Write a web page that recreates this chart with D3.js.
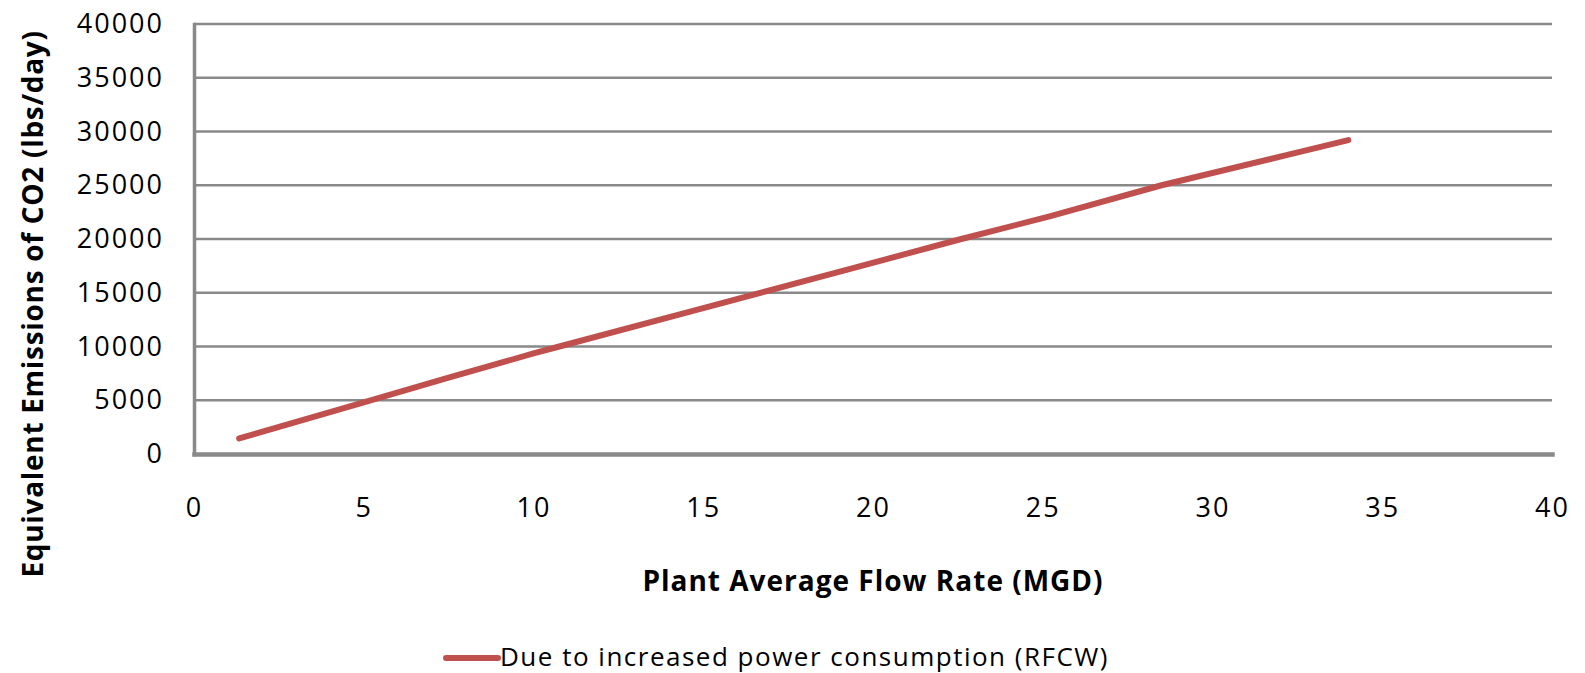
<!DOCTYPE html>
<html lang="en">
<head>
    <title>CO2 Emissions vs Flow Rate</title>
    <script src="https://d3js.org/d3.v7.min.js" charset="utf-8"></script>
    <style type="text/css">
        body
        {
            margin: 0;
            background-color: white;
        }
        svg text
        {
            font-family: "Open Sans", sans-serif;
            fill: #000;
        }
    </style>
</head>
<body>
    <div id="chart_div"></div>
    <script>
    "use strict";
    // values
    var flow_rate = [1.33, 5, 7.5, 10, 10.76, 15, 19.3, 22.6, 25.2, 28.5, 32.3, 34.0];
    var co2_emissions = [1450, 4800, 7100, 9350, 10000, 13570, 17190, 20000, 22100, 25000, 27900, 29200];
    var x_ticks = [0, 5, 10, 15, 20, 25, 30, 35, 40];
    var y_ticks = [0, 5000, 10000, 15000, 20000, 25000, 30000, 35000, 40000];
    var series_name = "Due to increased power consumption (RFCW)";
    var x_title = "Plant Average Flow Rate (MGD)";
    var y_title = "Equivalent Emissions of CO2 (lbs/day)";

    var svg_width = 1585;
    var svg_height = 673;
    var margin = {top: 24, right: 33, bottom: 219, left: 194};
    var grid_color = "#898989";
    var line_color = "#c0504d";

    var points = flow_rate.map(function(d, i)
    {
        return {x: d, y: co2_emissions[i]};
    });

    var x = d3.scaleLinear()
        .domain([0, 40])
        .range([margin.left, svg_width - margin.right]);
    var y = d3.scaleLinear()
        .domain([0, 40000])
        .range([svg_height - margin.bottom, margin.top]);

    var svg = d3.select("#chart_div")
        .append("svg")
        .attr("width", svg_width)
        .attr("height", svg_height);

    // horizontal gridlines
    svg.append("g")
        .attr("class", "grid")
        .selectAll("line")
        .data(y_ticks.filter((d) => d > 0))
        .enter()
        .append("line")
        .attr("x1", x(0))
        .attr("x2", x(40))
        .attr("y1", (d) => y(d))
        .attr("y2", (d) => y(d))
        .attr("stroke", grid_color)
        .attr("stroke-width", 2.5);

    // y axis
    var y_axis = d3.axisLeft(y)
        .tickValues(y_ticks)
        .tickFormat(d3.format("d"))
        .tickSize(0)
        .tickPadding(30);
    var y_g = svg.append("g")
        .attr("transform", "translate(" + x(0) + ",0)")
        .call(y_axis);
    y_g.select(".domain")
        .attr("stroke", grid_color)
        .attr("stroke-width", 3.5);
    y_g.selectAll("text")
        .style("font-size", "27px")
        .style("letter-spacing", "2px");

    // x axis
    var x_axis = d3.axisBottom(x)
        .tickValues(x_ticks)
        .tickFormat(d3.format("d"))
        .tickSize(0)
        .tickPadding(44);
    var x_g = svg.append("g")
        .attr("transform", "translate(0," + y(0) + ")")
        .call(x_axis);
    x_g.select(".domain")
        .attr("stroke", grid_color)
        .attr("stroke-width", 4.5);
    x_g.selectAll("text")
        .style("font-size", "27px")
        .style("letter-spacing", "2px");
    svg.selectAll(".domain").attr("stroke-linecap", "square");

    // the series
    var line = d3.line()
        .x((d) => x(d.x))
        .y((d) => y(d.y));
    svg.append("path")
        .datum(points)
        .attr("d", line)
        .attr("fill", "none")
        .attr("stroke", line_color)
        .attr("stroke-width", 6)
        .attr("stroke-linecap", "round")
        .attr("stroke-linejoin", "round");

    // axis titles
    svg.append("text")
        .text(x_title)
        .attr("x", (x(0) + x(40)) / 2)
        .attr("y", 591)
        .style("text-anchor", "middle")
        .style("font-size", "28px")
        .style("letter-spacing", "1px")
        .style("font-weight", "700");
    svg.append("text")
        .text(y_title)
        .attr("transform", "translate(43," + 304 + ") rotate(-90)")
        .style("text-anchor", "middle")
        .style("font-size", "28px")
        .style("letter-spacing", "0.7px")
        .style("font-weight", "700");

    // legend
    var legend = svg.append("g")
        .attr("transform", "translate(446,658)");
    legend.append("line")
        .attr("x1", 0)
        .attr("x2", 52)
        .attr("stroke", line_color)
        .attr("stroke-width", 6)
        .attr("stroke-linecap", "round");
    legend.append("text")
        .text(series_name)
        .attr("x", 54)
        .attr("dy", "0.32em")
        .style("font-size", "26px")
        .style("letter-spacing", "1.5px");
    </script>
</body>
</html>
